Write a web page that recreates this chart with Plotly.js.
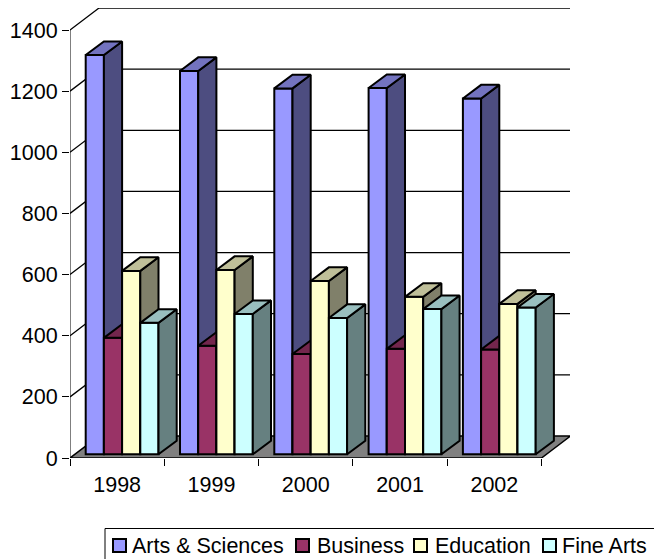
<!DOCTYPE html>
<html><head><meta charset="utf-8">
<script src="https://cdn.plot.ly/plotly-3.0.1.min.js"></script>
<style>html,body{margin:0;padding:0;background:#fff;overflow:hidden}</style>
</head><body><div id="c" style="width:654px;height:559px"></div>
<script>
// ---- data ----
const years = ['1998','1999','2000','2001','2002'];
const seriesNames = ['Arts & Sciences','Business','Education','Fine Arts'];
const artsSciences = [1306,1254,1197,1198,1164];
const business     = [381,355,328,345,343];
const education    = [600,603,567,515,492];
const fineArts     = [430,459,446,475,480];
const yTicks = [0,200,400,600,800,1000,1200,1400];
// ---- styles ----
const frontColors = ['#9999FF','#993366','#FFFFCC','#CCFFFF'];
const topColors   = ['#7373BF','#73264D','#BFBF99','#99BFBF'];
const sideColors  = ['#4D4D80','#4D1A33','#80806A','#668080'];
const allValues = [artsSciences,business,education,fineArts];
const W=654,H=559,L=70,R=84,T=8,B=101;
const pw=W-L-R, ph=H-T-B;
const pxPerCat=94.3, pxPerVal=0.3057;
const xMax=pw/pxPerCat, yMax=ph/pxPerVal;
const wallDx=29/pxPerCat, wallDy=22/pxPerVal;      // depth of the floor
const barDx=18.2/pxPerCat, barDy=13.6/pxPerVal;    // depth of a bar
const gapX=(5.3+10.4)/pxPerCat, baseY=3.7/pxPerVal; // front face inset
const bw=18.2/pxPerCat;
const px=x=>(x-L)/pw, py=y=>1-(y-T)/ph;

const traces=[];
// floor
traces.push({type:'scatter',mode:'lines',x:[0,years.length,years.length+wallDx,wallDx,0],
  y:[0,0,wallDy,wallDy,0],fill:'toself',fillcolor:'#808080',
  line:{color:'#000',width:1.5},hoverinfo:'skip',showlegend:false,cliponaxis:false});
// wall gridlines
let gx=[],gy=[];
yTicks.slice(1).forEach(v=>{gx.push(0,wallDx,xMax,null);gy.push(v,v+wallDy,v+wallDy,null);});
traces.push({type:'scatter',mode:'lines',x:gx,y:gy,line:{color:'#000',width:1.3},
  hoverinfo:'skip',showlegend:false,cliponaxis:false});
// value axis line
traces.push({type:'scatter',mode:'lines',x:[0,0],y:[0,yTicks[yTicks.length-1]],line:{color:'#000',width:1},
  hoverinfo:'skip',showlegend:false,cliponaxis:false});

allValues.forEach((vals,s)=>{
  const n=s+2, xa='x'+n, ya='y'+n;
  const centers=vals.map((v,i)=>i+gapX+s*bw+bw/2);
  traces.push({type:'bar',name:seriesNames[s],x:centers,y:vals,base:vals.map(()=>baseY),width:bw,
    marker:{color:frontColors[s],line:{color:'#000',width:2}},xaxis:xa,yaxis:ya,
    hoverinfo:'y',showlegend:false,cliponaxis:false});
  let sx=[],sy=[],tx=[],ty=[];
  vals.forEach((v,i)=>{
    const x0=i+gapX+s*bw,x1=x0+bw,b=baseY,t=baseY+v;
    sx.push(x1,x1+barDx,x1+barDx,x1,x1,null); sy.push(b,b+barDy,t+barDy,t,b,null);
    tx.push(x0,x1,x1+barDx,x0+barDx,x0,null); ty.push(t,t,t+barDy,t+barDy,t,null);
  });
  [[sx,sy,sideColors[s]],[tx,ty,topColors[s]]].forEach(f=>{
    traces.push({type:'scatter',mode:'lines',x:f[0],y:f[1],fill:'toself',fillcolor:f[2],
      line:{color:'#000',width:2},xaxis:xa,yaxis:ya,hoverinfo:'skip',showlegend:false,cliponaxis:false});
  });
});

const font={family:'"Liberation Sans",Arial,sans-serif',size:21.5,color:'#000'};
const layout={width:W,height:H,margin:{l:L,r:R,t:T,b:B,pad:0},paper_bgcolor:'#fff',plot_bgcolor:'rgba(0,0,0,0)',
  showlegend:false,barmode:'overlay',font:font,
  xaxis:{range:[0,xMax],tickmode:'array',tickvals:years.map((y,i)=>i+0.5),ticktext:years,
    ticks:'outside',ticklen:7,tickcolor:'rgba(0,0,0,0)',showgrid:false,zeroline:false,showline:false,
    tickfont:font,fixedrange:true,
    minor:{tickmode:'array',tickvals:[0,1,2,3,4,5],ticks:'outside',ticklen:7,tickcolor:'#000',tickwidth:1,showgrid:false}},
  yaxis:{range:[0,yMax],tickmode:'array',tickvals:yTicks,ticktext:yTicks.map(String),
    ticks:'outside',ticklen:7,tickcolor:'#000',tickwidth:1,showgrid:false,zeroline:false,showline:false,
    tickfont:font,fixedrange:true},
  shapes:[],annotations:[]};
[2,3,4,5].forEach(n=>{
  layout['xaxis'+n]={overlaying:'x',range:[0,xMax],visible:false,fixedrange:true,anchor:'y'+n};
  layout['yaxis'+n]={overlaying:'y',range:[0,yMax],visible:false,fixedrange:true,anchor:'x'+n};
});
// legend box
layout.shapes.push({type:'rect',xref:'paper',yref:'paper',x0:px(105),x1:px(660),y0:py(528.5),y1:py(565),
  line:{color:'#000',width:1},fillcolor:'#fff',layer:'below'});
const swatchX=[113,296,414,543], textX=[132,317,435,562];
seriesNames.forEach((nm,s)=>{
  layout.shapes.push({type:'rect',xref:'paper',yref:'paper',x0:px(swatchX[s]),x1:px(swatchX[s]+13),
    y0:py(539),y1:py(552),line:{color:'#000',width:2},fillcolor:frontColors[s]});
  layout.annotations.push({xref:'paper',yref:'paper',x:px(textX[s]),y:py(546),xanchor:'left',yanchor:'middle',
    text:nm,showarrow:false,font:font,borderpad:0,borderwidth:0});
});
Plotly.newPlot('c',traces,layout,{displayModeBar:false,staticPlot:true});
</script></body></html>
